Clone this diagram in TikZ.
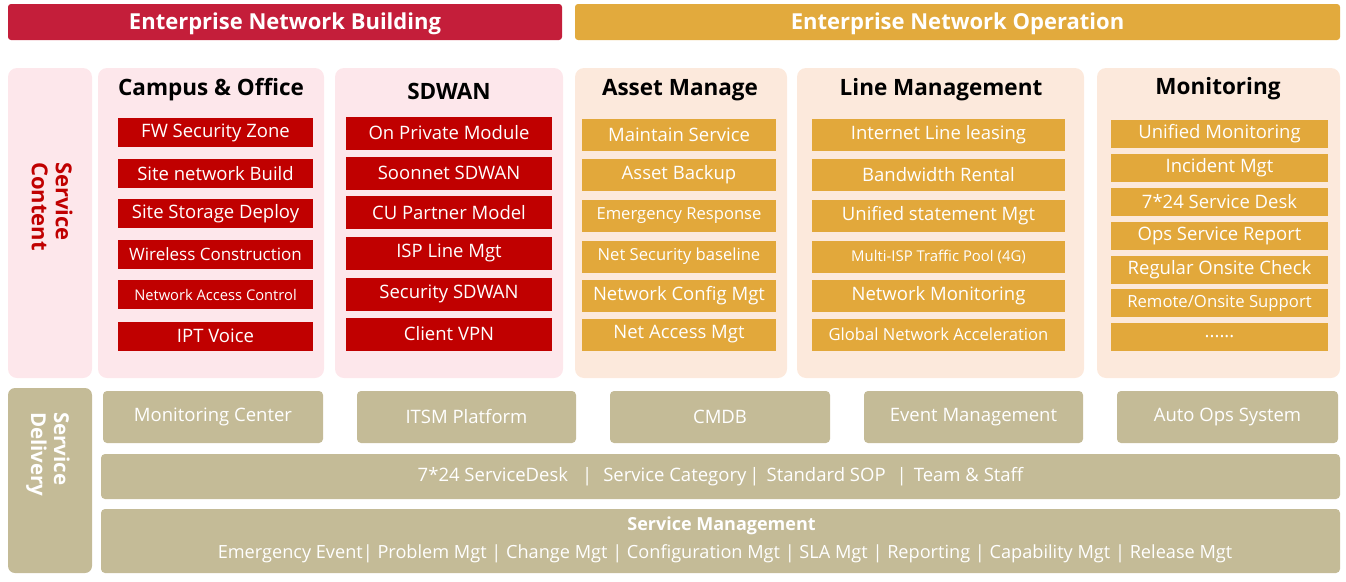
\documentclass[tikz,border=0pt]{standalone}
\usepackage{fontspec}
\setmainfont{Open Sans}
\definecolor{crimson}{HTML}{C41E3A}
\definecolor{topgold}{HTML}{E2AA3D}
\definecolor{itemred}{HTML}{C00000}
\definecolor{itemgold}{HTML}{E2A83B}
\definecolor{pinkbg}{HTML}{FDE7EB}
\definecolor{peachbg}{HTML}{FCE9DC}
\definecolor{tan}{HTML}{C4BB97}
\newcommand{\fs}[1]{\fontsize{#1}{#1}\selectfont}
\begin{document}
\begin{tikzpicture}[x=1pt,y=-1pt,
  box/.style={inner sep=0pt, outer sep=0pt, draw=none, anchor=center},
  topbar/.style={box, rounded corners=3pt, text=white, font=\fs{22}\bfseries},
  bartext/.style={box, text=white, font=\fs{22}\bfseries},
  pinkpanel/.style={box, fill=pinkbg, rounded corners=9pt},
  peachpanel/.style={box, fill=peachbg, rounded corners=9pt},
  heading/.style={box, font=\fs{22.5}\bfseries, text=black},
  redbox/.style={box, fill=itemred, text=white, font=\fs{18.5}},
  goldbox/.style={box, fill=itemgold, text=white, font=\fs{18.5}},
  tanbox/.style={box, fill=tan, text=white, rounded corners=4pt, font=\fs{18.5}},
  sidelabel/.style={inner sep=0pt, outer sep=0pt, rotate=-90, anchor=west, align=left, font=\fontsize{22}{24}\selectfont\bfseries}
]
\useasboundingbox (0,0) rectangle (1346,581);

% top bars
\node[topbar, fill=crimson, minimum width=554pt, minimum height=36pt] (build) at (285,22) {};
\node[bartext] (buildt) at (285,24) {Enterprise Network Building};
\node[topbar, fill=topgold, minimum width=765pt, minimum height=36pt] (oper) at (957.5,22) {};
\node[bartext] (opert) at (957.5,24) {Enterprise Network Operation};

% service content
\node[pinkpanel, minimum width=84pt, minimum height=310pt] (sc) at (50,223) {};
\node[sidelabel, text=itemred] (sclabel) at (52,162) {Service\\Content};

% panels
\node[pinkpanel, minimum width=226pt, minimum height=310pt] (campus) at (211,223) {};
\node[pinkpanel, minimum width=228pt, minimum height=310pt] (sdwan) at (449,223) {};
\node[peachpanel, minimum width=212pt, minimum height=310pt] (asset) at (681,223) {};
\node[peachpanel, minimum width=287pt, minimum height=310pt] (line) at (940.5,223) {};
\node[peachpanel, minimum width=243pt, minimum height=310pt] (mon) at (1218.5,223) {};

\node[heading] (hcampus) at (211,89.5) {Campus \& Office};
\node[heading] (hsdwan) at (449,91.5) {SDWAN};
\node[heading] (hasset) at (680,90.5) {Asset Manage};
\node[heading] (hline) at (941,89.5) {Line Management};
\node[heading] (hmon) at (1218,88.5) {Monitoring};

% campus items
\begin{scope}[every node/.style={redbox, minimum width=195pt, minimum height=29pt}]
\node (c1) at (215.5,132.5) {FW Security Zone};
\node (c2) at (215.5,173.5) {Site network Build};
\node (c3) at (215.5,213.5) {Site Storage Deploy};
\node[font=\fs{17}] (c4) at (215.5,254.5) {Wireless Construction};
\node[font=\fs{14.7}] (c5) at (215.5,294.5) {Network Access Control};
\node (c6) at (215.5,336) {IPT Voice};
\end{scope}

% sdwan items
\begin{scope}[every node/.style={redbox, minimum width=206pt, minimum height=33pt}]
\node (s1) at (449,133) {On Private Module};
\node (s2) at (449,173) {Soonnet SDWAN};
\node (s3) at (449,212.5) {CU Partner Model};
\node (s4) at (449,253) {ISP Line Mgt};
\node (s5) at (449,294) {Security SDWAN};
\node (s6) at (449,334) {Client VPN};
\end{scope}

% asset items
\begin{scope}[every node/.style={goldbox, minimum width=194pt, minimum height=32pt}]
\node (a1) at (679,135) {Maintain Service};
\node (a2) at (679,175) {Asset Backup};
\node[font=\fs{16.6}] (a3) at (679,216) {Emergency Response};
\node[font=\fs{16.6}] (a4) at (679,256.5) {Net Security baseline};
\node (a5) at (679,295.5) {Network Config Mgt};
\node (a6) at (679,334.5) {Net Access Mgt};
\end{scope}

% line items
\begin{scope}[every node/.style={goldbox, minimum width=253pt, minimum height=32pt}]
\node (l1) at (938.5,134.5) {Internet Line leasing};
\node (l2) at (938.5,175) {Bandwidth Rental};
\node (l3) at (938.5,216) {Unified statement Mgt};
\node[font=\fs{14.9}] (l4) at (938.5,256.5) {Multi-ISP Traffic Pool (4G)};
\node (l5) at (938.5,295.5) {Network Monitoring};
\node[font=\fs{16.6}] (l6) at (938.5,334.5) {Global Network Acceleration};
\end{scope}

% monitoring items
\begin{scope}[every node/.style={goldbox, minimum width=217pt, minimum height=28pt}]
\node (m1) at (1219.5,134) {Unified Monitoring};
\node (m2) at (1219.5,168) {Incident Mgt};
\node (m3) at (1219.5,202) {7*24 Service Desk};
\node (m4) at (1219.5,235.5) {Ops Service Report};
\node (m5) at (1219.5,269.5) {Regular Onsite Check};
\node[font=\fs{16.7}] (m6) at (1219.5,303) {Remote/Onsite Support};
\node (m7) at (1219.5,337) {......};
\end{scope}

% service delivery
\node[tanbox, rounded corners=7pt, minimum width=84pt, minimum height=185pt] (sd) at (50,480.5) {};
\node[sidelabel, text=white, font=\fontsize{20.5}{23}\selectfont\bfseries] (sdlabel) at (48,412) {Service\\Delivery};

\node[tanbox, minimum width=220pt, minimum height=52pt] (b1) at (213,417) {Monitoring Center};
\node[tanbox, minimum width=219pt, minimum height=52pt] (b2) at (466.5,417) {ITSM Platform};
\node[tanbox, minimum width=220pt, minimum height=52pt] (b3) at (720,417) {CMDB};
\node[tanbox, minimum width=219pt, minimum height=52pt] (b4) at (973.5,417) {Event Management};
\node[tanbox, minimum width=221pt, minimum height=52pt] (b5) at (1227.5,417) {Auto Ops System};

\node[tanbox, minimum width=1239pt, minimum height=45pt] (r2) at (720.5,476.5) {7*24 ServiceDesk\hspace{14pt}|\hspace{11pt}Service Category\,|\hspace{7pt}Standard SOP\hspace{11pt}|\hspace{7pt}Team \& Staff};
\node[tanbox, minimum width=1239pt, minimum height=64pt] (r3) at (720.5,541) {};
\node[box, text=white, font=\fs{18}\bfseries] (r3t) at (721.5,526) {Service Management};
\node[box, text=white, font=\fs{18.15}] (r3b) at (725,554) {Emergency Event| Problem Mgt | Change Mgt | Configuration Mgt | SLA Mgt | Reporting | Capability Mgt | Release Mgt};
\end{tikzpicture}
\end{document}
